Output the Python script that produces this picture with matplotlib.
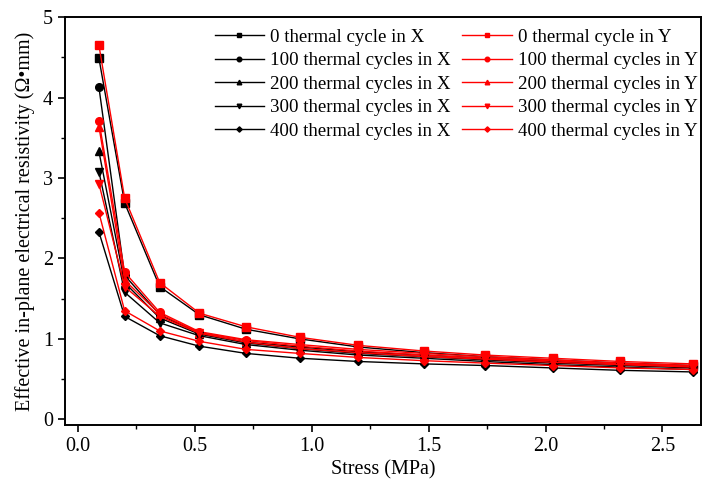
import matplotlib.pyplot as plt
from matplotlib.ticker import MultipleLocator

plt.rcParams['font.family'] = ['Liberation Serif', 'DejaVu Serif']

stress = [0.09, 0.2, 0.35, 0.52, 0.72, 0.95, 1.2, 1.48, 1.74, 2.03, 2.32, 2.63]

cycles = ["0 thermal cycle", "100 thermal cycles", "200 thermal cycles",
          "300 thermal cycles", "400 thermal cycles"]
markers = ["s", "o", "^", "v", "D"]

res_x = [
    [4.49, 2.69, 1.65, 1.30, 1.12, 1.00, 0.90, 0.83, 0.78, 0.74, 0.70, 0.67],
    [4.13, 1.79, 1.30, 1.07, 0.96, 0.90, 0.84, 0.80, 0.76, 0.72, 0.68, 0.65],
    [3.33, 1.70, 1.26, 1.06, 0.95, 0.88, 0.82, 0.78, 0.74, 0.70, 0.67, 0.64],
    [3.08, 1.58, 1.20, 1.04, 0.93, 0.86, 0.80, 0.76, 0.72, 0.68, 0.65, 0.62],
    [2.33, 1.28, 1.04, 0.91, 0.82, 0.76, 0.72, 0.69, 0.67, 0.64, 0.61, 0.59],
]
res_y = [
    [4.65, 2.75, 1.70, 1.32, 1.15, 1.02, 0.92, 0.85, 0.80, 0.76, 0.72, 0.69],
    [3.71, 1.83, 1.33, 1.09, 0.99, 0.93, 0.87, 0.82, 0.78, 0.74, 0.70, 0.67],
    [3.64, 1.73, 1.31, 1.08, 0.98, 0.91, 0.85, 0.80, 0.76, 0.73, 0.69, 0.66],
    [2.93, 1.65, 1.28, 1.07, 0.96, 0.88, 0.83, 0.78, 0.75, 0.71, 0.68, 0.65],
    [2.57, 1.35, 1.10, 0.97, 0.87, 0.82, 0.77, 0.73, 0.70, 0.67, 0.64, 0.62],
]

fig = plt.figure(figsize=(7.02, 4.88), dpi=100)
ax = fig.add_axes([0.0926, 0.129, 0.906, 0.836])

handles = []
for lab, m, vx, vy in zip(cycles, markers, res_x, res_y):
    ms = 4.5 if m == "D" else 5.5
    hx, = ax.plot(stress, vx, color="black", marker=m, markersize=ms, linewidth=1.0,
                  label=f"{lab} in X")
    hy, = ax.plot(stress, vy, color="red", marker=m, markersize=ms, linewidth=1.0,
                  label=f"{lab} in Y")
    handles.append((hx, hy))

order = [h[0] for h in handles] + [h[1] for h in handles]
ax.legend(handles=order, labels=[h.get_label() for h in order], ncol=2,
          loc="upper right", bbox_to_anchor=(1.022, 1.013), frameon=False,
          numpoints=1, markerscale=0.6, handlelength=2.6,
          handletextpad=0.35, columnspacing=0.6, labelspacing=0.33,
          prop={'size': 13.6})

ax.set_xlim(-0.055, 2.665)
ax.set_ylim(-0.07, 5)
ax.xaxis.set_major_locator(MultipleLocator(0.5))
ax.xaxis.set_minor_locator(MultipleLocator(0.25))
ax.yaxis.set_major_locator(MultipleLocator(1))
ax.yaxis.set_minor_locator(MultipleLocator(0.5))
ax.xaxis.set_major_formatter(plt.FormatStrFormatter("%.1f"))
ax.tick_params(which="major", direction="out", length=5, width=1.2, labelsize=14.5)
ax.tick_params(which="minor", direction="out", length=3, width=1.0)
for s in ax.spines.values():
    s.set_linewidth(1.4)

ax.set_xlabel("Stress (MPa)", fontsize=14.5, labelpad=3)
ax.set_ylabel("Effective in-plane electrical resistivity (\u03a9\u2022mm)", fontsize=14.5,
              labelpad=6)

fig.savefig("out.png", dpi=100)
